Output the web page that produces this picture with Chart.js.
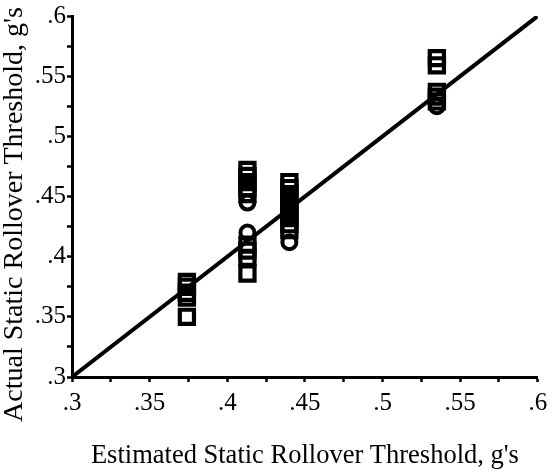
<!DOCTYPE html>
<html>
<head>
<meta charset="utf-8">
<script src="https://cdn.jsdelivr.net/npm/chart.js@4"></script>
<style>
  html, body { margin: 0; padding: 0; background: #fff; }
  #wrap { width: 552px; height: 472px; }
</style>
</head>
<body>
<div id="wrap"><canvas id="c" width="552" height="472"></canvas></div>
<script>
// Estimated vs. actual static rollover threshold (g's)
const squareEstimated = [
  0.374, 0.374, 0.374, 0.374, 0.374,
  0.413, 0.413, 0.413, 0.413, 0.413,
  0.413, 0.413, 0.413, 0.413,
  0.440, 0.440, 0.440, 0.440, 0.440, 0.440, 0.440, 0.440, 0.440,
  0.535, 0.535, 0.535, 0.535, 0.535
];
const squareActual = [
  0.379, 0.375, 0.370, 0.366, 0.350,
  0.472, 0.467, 0.462, 0.457, 0.452,
  0.410, 0.405, 0.399, 0.386,
  0.462, 0.457, 0.452, 0.447, 0.442, 0.437, 0.432, 0.427, 0.422,
  0.565, 0.559, 0.537, 0.533, 0.529
];
const circleEstimated = [0.413, 0.413, 0.440, 0.535];
const circleActual = [0.445, 0.420, 0.412, 0.525];
// equality line
const lineEstimated = [0.3, 0.6];
const lineActual = [0.3, 0.6];
const tickValues = [0.3, 0.325, 0.35, 0.375, 0.4, 0.425, 0.45, 0.475, 0.5, 0.525, 0.55, 0.575, 0.6];
const xTitle = 'Estimated Static Rollover Threshold, g\'s';
const yTitle = 'Actual Static Rollover Threshold, g\'s';

const toPts = (xs, ys) => xs.map((x, i) => ({ x: x, y: ys[i] }));
const fmt = v => {
  const r = Math.round(v * 1000) / 1000;
  if (Math.round(r * 1000) % 50 !== 0) return '';
  return r.toFixed(2).replace(/0$/, '').replace(/^0/, '');
};

const serif = "'Liberation Serif', 'Times New Roman', serif";
const tickOpts = {
  color: '#000',
  font: { family: serif, size: 25 },
  autoSkip: false,
  maxRotation: 0,
  callback: v => fmt(v)
};
const gridOpts = {
  drawOnChartArea: false,
  drawTicks: true,
  tickLength: 5,
  tickWidth: 2.5,
  tickColor: '#000'
};

// vertical axis title, set a little below the middle of the plot
const yTitlePlugin = {
  id: 'yTitle',
  afterDraw(chart) {
    const ctx = chart.ctx;
    const area = chart.chartArea;
    ctx.save();
    ctx.translate(15, (area.top + area.bottom) / 2 + 18);
    ctx.rotate(-Math.PI / 2);
    ctx.fillStyle = '#000';
    ctx.font = '28px ' + serif;
    ctx.textAlign = 'center';
    ctx.textBaseline = 'middle';
    ctx.fillText(yTitle, 0, 0);
    ctx.restore();
  }
};

new Chart(document.getElementById('c'), {
  type: 'scatter',
  data: {
    datasets: [
      {
        label: 'square',
        data: toPts(squareEstimated, squareActual),
        pointStyle: 'rect',
        pointRadius: 10,
        pointBorderWidth: 4.2,
        borderColor: '#000',
        backgroundColor: 'rgba(255,255,255,0)',
        order: 1
      },
      {
        label: 'circle',
        data: toPts(circleEstimated, circleActual),
        pointStyle: 'circle',
        pointRadius: 7,
        pointBorderWidth: 4,
        borderColor: '#000',
        backgroundColor: '#fff',
        order: 2
      },
      {
        label: 'line',
        data: toPts(lineEstimated, lineActual),
        showLine: true,
        borderColor: '#000',
        borderWidth: 4,
        pointRadius: 0,
        order: 3
      }
    ]
  },
  plugins: [yTitlePlugin],
  options: {
    responsive: false,
    animation: false,
    devicePixelRatio: 1,
    layout: { padding: { top: 12, right: 0, left: 0, bottom: 0 } },
    plugins: { legend: { display: false }, tooltip: { enabled: false } },
    scales: {
      x: {
        type: 'linear',
        min: 0.3,
        max: 0.6,
        afterBuildTicks: s => { s.ticks = tickValues.map(v => ({ value: v })); },
        afterFit: s => { s.height = 95; s.paddingRight = 12; s.paddingLeft = 0; },
        ticks: Object.assign({}, tickOpts, { padding: 6 }),
        grid: gridOpts,
        border: { color: '#000', width: 3 },
        title: {
          display: true,
          text: xTitle,
          color: '#000',
          font: { family: serif, size: 26.5 },
          padding: { top: 8, bottom: 0 }
        }
      },
      y: {
        type: 'linear',
        min: 0.3,
        max: 0.6,
        afterBuildTicks: s => { s.ticks = tickValues.map(v => ({ value: v })); },
        afterFit: s => { s.width = 72; },
        ticks: Object.assign({}, tickOpts, { padding: 1 }),
        grid: gridOpts,
        border: { color: '#000', width: 3 },
        title: { display: false }
      }
    }
  }
});
</script>
</body>
</html>
